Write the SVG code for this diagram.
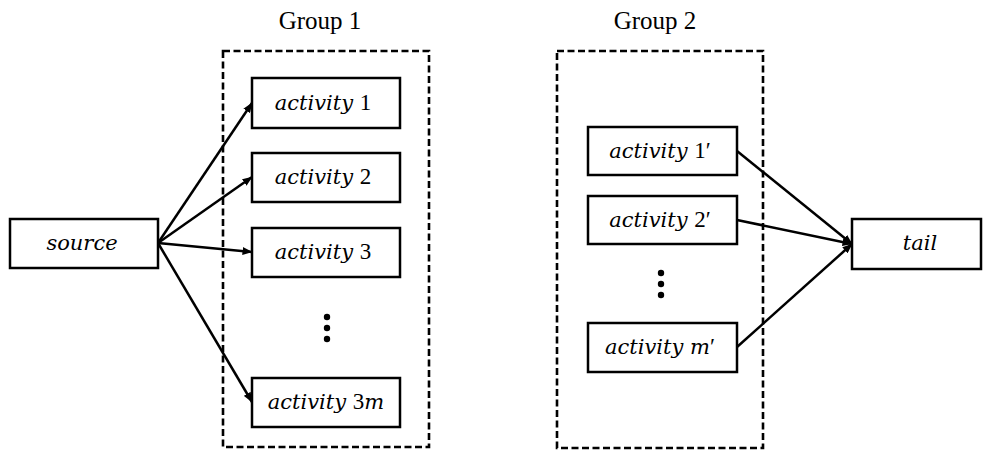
<svg xmlns="http://www.w3.org/2000/svg" width="990" height="451" viewBox="0 0 990 451">
  <style>
    .box { fill: #ffffff; stroke: #000000; stroke-width: 2.5; }
    .group { fill: none; stroke: #000000; stroke-width: 2.6; stroke-dasharray: 7 3.5; }
    .lbl { font-family: "DejaVu Serif", "Liberation Serif", serif; font-style: italic; font-size: 21px; fill: #000000; text-anchor: middle; }
    .num { font-family: "Liberation Serif", "DejaVu Serif", serif; font-style: normal; font-size: 23px; }
    .title { font-family: "Liberation Serif", "Times New Roman", serif; font-size: 25px; fill: #000000; text-anchor: middle; }
    .edge { stroke: #000000; stroke-width: 2.5; fill: none; marker-end: url(#arrow); }
    .dot { fill: #000000; }
  </style>
  <defs>
    <marker id="arrow" viewBox="0 0 10 8" refX="9.5" refY="4" markerWidth="10" markerHeight="8" markerUnits="userSpaceOnUse" orient="auto">
      <path d="M0,0 L10,4 L0,8 Z" fill="#000000"/>
    </marker>
  </defs>

  <!-- group frames with titles -->
  <g id="group1">
    <text class="title" x="320" y="29">Group 1</text>
    <rect class="group" x="223" y="51" width="206" height="396"/>
    <circle class="dot" cx="327" cy="317" r="3.2"/>
    <circle class="dot" cx="327" cy="328" r="3.2"/>
    <circle class="dot" cx="327" cy="339" r="3.2"/>
  </g>
  <g id="group2">
    <text class="title" x="655" y="29">Group 2</text>
    <rect class="group" x="557" y="51" width="206" height="397"/>
    <circle class="dot" cx="661" cy="273" r="3.2"/>
    <circle class="dot" cx="661" cy="284" r="3.2"/>
    <circle class="dot" cx="661" cy="295" r="3.2"/>
  </g>

  <!-- connectors -->
  <g id="connectors">
    <line class="edge" x1="158" y1="243" x2="252" y2="103"/>
    <line class="edge" x1="158" y1="243" x2="252" y2="177"/>
    <line class="edge" x1="158" y1="243" x2="252" y2="252"/>
    <line class="edge" x1="158" y1="243" x2="252" y2="402"/>
    <line class="edge" x1="737" y1="151" x2="852" y2="244"/>
    <line class="edge" x1="737" y1="220" x2="852" y2="244"/>
    <line class="edge" x1="737" y1="347" x2="852" y2="244"/>
  </g>

  <!-- nodes -->
  <g id="source">
    <rect class="box" x="10" y="219" width="148" height="49"/>
    <text class="lbl" x="82" y="250">source</text>
  </g>
  <g id="activity1">
    <rect class="box" x="252" y="78" width="148" height="50"/>
    <text class="lbl" x="323" y="110">activity <tspan class="num">1</tspan></text>
  </g>
  <g id="activity2">
    <rect class="box" x="252" y="153" width="148" height="49"/>
    <text class="lbl" x="323" y="184">activity <tspan class="num">2</tspan></text>
  </g>
  <g id="activity3">
    <rect class="box" x="252" y="228" width="148" height="49"/>
    <text class="lbl" x="323" y="259">activity <tspan class="num">3</tspan></text>
  </g>
  <g id="activity3m">
    <rect class="box" x="252" y="378" width="148" height="49"/>
    <text class="lbl" x="326" y="409">activity <tspan class="num">3</tspan>m</text>
  </g>
  <g id="activity1p">
    <rect class="box" x="588" y="127" width="149" height="48"/>
    <text class="lbl" x="660" y="158">activity <tspan class="num">1′</tspan></text>
  </g>
  <g id="activity2p">
    <rect class="box" x="588" y="196" width="149" height="48"/>
    <text class="lbl" x="660" y="227">activity <tspan class="num">2′</tspan></text>
  </g>
  <g id="activitymp">
    <rect class="box" x="588" y="323" width="149" height="49"/>
    <text class="lbl" x="660" y="354">activity m<tspan class="num">′</tspan></text>
  </g>
  <g id="tail">
    <rect class="box" x="852" y="219" width="129" height="50"/>
    <text class="lbl" x="920" y="250">tail</text>
  </g>
</svg>
